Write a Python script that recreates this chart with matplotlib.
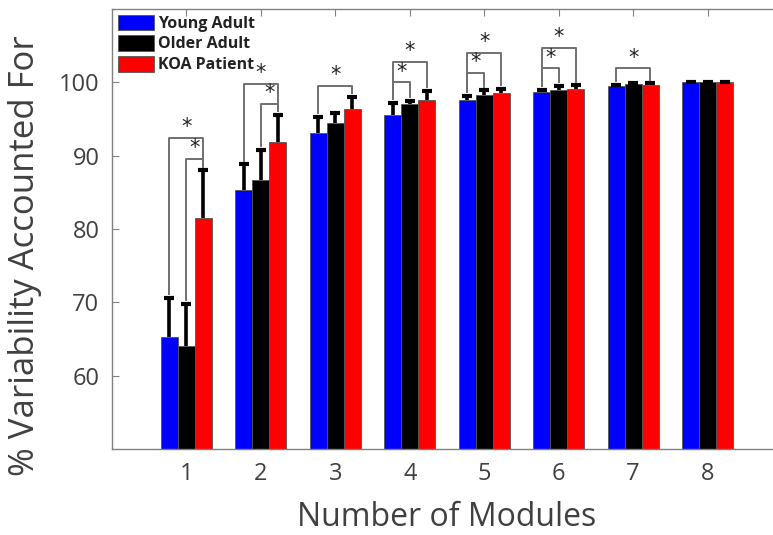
import numpy as np
import matplotlib
matplotlib.use("Agg")
import matplotlib.pyplot as plt

plt.rcParams['font.family'] = ['Open Sans', 'DejaVu Sans']

modules = [1, 2, 3, 4, 5, 6, 7, 8]
groups = ["Young Adult", "Older Adult", "KOA Patient"]
colors = ["#0000ff", "#000000", "#ff0000"]

young = [65.3, 85.3, 93.1, 95.5, 97.6, 98.7, 99.5, 100.0]
young_sd = [5.3, 3.5, 2.2, 1.7, 0.6, 0.3, 0.15, 0.1]
older = [64.0, 86.7, 94.5, 97.0, 98.3, 99.0, 99.8, 100.0]
older_sd = [5.8, 4.1, 1.3, 0.5, 0.6, 0.5, 0.15, 0.1]
koa = [81.5, 91.8, 96.3, 97.6, 98.6, 99.1, 99.7, 100.0]
koa_sd = [6.5, 3.8, 1.7, 1.2, 0.5, 0.5, 0.15, 0.1]

# significance brackets: (module, group a, group b, bracket height)
sig = [(1, 0, 2, 92.4), (1, 1, 2, 89.6),
       (2, 0, 2, 99.8), (2, 1, 2, 97.1),
       (3, 0, 2, 99.5),
       (4, 0, 2, 102.8), (4, 0, 1, 100.0),
       (5, 0, 2, 104.0), (5, 0, 1, 101.3),
       (6, 0, 2, 104.7), (6, 0, 1, 101.9),
       (7, 0, 2, 101.9)]

means = [young, older, koa]
sds = [young_sd, older_sd, koa_sd]

fig = plt.figure(figsize=(7.73, 5.35), dpi=100)
ax = fig.add_axes([112/773, 86/535, 670/773, 440/535])

w = 0.229
x = np.array(modules)
handles = []
for i in range(3):
    xs = x + (i - 1) * w
    m = np.array(means[i])
    e = np.array(sds[i])
    b = ax.bar(xs, m, width=w, color=colors[i], edgecolor="#555555", linewidth=0.6, zorder=2)
    handles.append(b)
    # upper-only error bars
    ax.vlines(xs, m, m + e, color="black", lw=2.6, zorder=3)
    ax.plot(xs, m + e, ls="none", marker="_", ms=7, mew=3, color="black", zorder=3)

for mod, a, bb, h in sig:
    xa = mod + (a - 1) * w
    xb = mod + (bb - 1) * w
    ya = means[a][mod - 1] + sds[a][mod - 1] + 0.5
    yb = means[bb][mod - 1] + sds[bb][mod - 1] + 0.5
    ax.plot([xa, xa, xb, xb], [ya, h, h, yb], color="#707070", lw=1.4, zorder=3)
    ax.text((xa + xb) / 2, h + 0.1, "*", ha="center", va="bottom", fontsize=15,
            color="#222222", family="DejaVu Sans")

ax.set_xlim(0, 9)
ax.set_ylim(50, 110)
ax.set_xticks(modules)
ax.set_yticks([60, 70, 80, 90, 100])
ax.tick_params(direction="in", length=5, width=0.8, colors="#808080",
               labelcolor="#404040", labelsize=17, top=True, right=True, pad=9)
for s in ax.spines.values():
    s.set_color("#808080")
    s.set_linewidth(1.0)

ax.set_xlabel("Number of Modules", fontsize=23, color="#404040", labelpad=11)
ax.set_ylabel("% Variability Accounted For", fontsize=25, color="#404040")
ax.yaxis.set_label_coords(-0.105, 0.44)

leg = ax.legend(handles, groups, loc="upper left", bbox_to_anchor=(0.0, 1.0),
                frameon=False, fontsize=11.5, handlelength=2.3, handleheight=1.15,
                handletextpad=0.25, labelspacing=0.2, borderaxespad=0.15,
                borderpad=0.2)
for t in leg.get_texts():
    t.set_fontweight("bold")
    t.set_color("#222222")

fig.savefig("out.png", dpi=100)
